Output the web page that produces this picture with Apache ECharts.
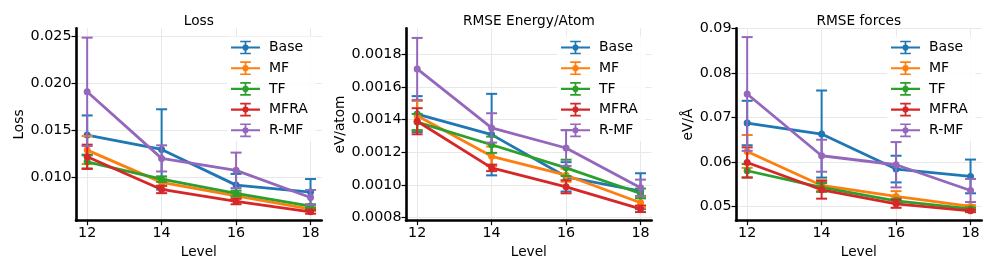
<!DOCTYPE html>
<html>
<head>
<meta charset="utf-8">
<script src="https://cdn.jsdelivr.net/npm/echarts@6/dist/echarts.min.js"></script>
<style>
html,body{margin:0;padding:0;background:#fff;}
#c{width:996px;height:272px;}
</style>
</head>
<body>
<div id="c"></div>
<script>
// ---- data ----
const levels = [12, 14, 16, 18];
const seriesNames = ['Base', 'MF', 'TF', 'MFRA', 'R-MF'];
const panelTitles = ['Loss', 'RMSE Energy/Atom', 'RMSE forces'];
const yNames = ['Loss', 'eV/atom', 'eV/Å'];

// Loss
const lossBase = [0.01447, 0.01293, 0.00911, 0.00836];
const lossBaseErr = [0.0021, 0.0043, 0.0012, 0.0014];
const lossMF = [0.01286, 0.0094, 0.00797, 0.00654];
const lossMFErr = [0.0015, 0.0004, 0.0003, 0.0002];
const lossTF = [0.0116, 0.00975, 0.00822, 0.00686];
const lossTFErr = [0.0007, 0.0003, 0.0003, 0.0002];
const lossMFRA = [0.01214, 0.00865, 0.00736, 0.00625];
const lossMFRAErr = [0.0013, 0.0004, 0.0003, 0.0002];
const lossRMF = [0.0191, 0.01197, 0.01069, 0.00779];
const lossRMFErr = [0.0058, 0.0014, 0.0019, 0.0008];

// RMSE Energy/Atom
const enBase = [0.001434, 0.001308, 0.001049, 0.000961];
const enBaseErr = [0.00011, 0.00025, 0.00009, 0.00011];
const enMF = [0.001424, 0.001175, 0.001059, 0.00089];
const enMFErr = [0.00009, 0.00006, 0.00004, 0.00003];
const enTF = [0.001385, 0.001246, 0.001104, 0.000947];
const enTFErr = [0.00005, 0.00005, 0.00005, 0.00003];
const enMFRA = [0.00139, 0.001104, 0.000988, 0.000853];
const enMFRAErr = [0.00008, 0.00002, 0.00004, 0.00002];
const enRMF = [0.001711, 0.001349, 0.001226, 0.000982];
const enRMFErr = [0.00019, 0.00009, 0.00011, 0.00005];

// RMSE forces
const frBase = [0.06878, 0.0663, 0.05842, 0.05676];
const frBaseErr = [0.005, 0.0098, 0.003, 0.0038];
const frMF = [0.06239, 0.05473, 0.05225, 0.0500];
const frMFErr = [0.0037, 0.0012, 0.0012, 0.0003];
const frTF = [0.05804, 0.05428, 0.05128, 0.04948];
const frTFErr = [0.0015, 0.001, 0.0005, 0.0003];
const frMFRA = [0.0599, 0.05376, 0.0506, 0.04903];
const frMFRAErr = [0.0034, 0.002, 0.0009, 0.0003];
const frRMF = [0.07532, 0.06142, 0.05939, 0.0536];
const frRMFErr = [0.0128, 0.0036, 0.0051, 0.0026];

// tick labels
const xTicks = [12, 14, 16, 18];
const yTicksLoss = [0.010, 0.015, 0.020, 0.025];
const yTicksEnergy = [0.0008, 0.0010, 0.0012, 0.0014, 0.0016, 0.0018];
const yTicksForces = [0.05, 0.06, 0.07, 0.08, 0.09];
const yDecimals = [3, 4, 2];
const yRanges = [[0.0053, 0.0259], [0.00078, 0.00196], [0.0468, 0.0901]];
const xRange = [11.7, 18.3];

// ---- build ----
const colors = ['#1f77b4', '#ff7f0e', '#2ca02c', '#d62728', '#9467bd'];
const panelVals = [
  [lossBase, lossMF, lossTF, lossMFRA, lossRMF],
  [enBase, enMF, enTF, enMFRA, enRMF],
  [frBase, frMF, frTF, frMFRA, frRMF]
];
const panelErrs = [
  [lossBaseErr, lossMFErr, lossTFErr, lossMFRAErr, lossRMFErr],
  [enBaseErr, enMFErr, enTFErr, enMFRAErr, enRMFErr],
  [frBaseErr, frMFErr, frTFErr, frMFRAErr, frRMFErr]
];
const yTicksAll = [yTicksLoss, yTicksEnergy, yTicksForces];

const FONT = 'DejaVu Sans';
const gridLefts = [76, 406, 736];
const gridW = 245.7;
const gridTop = 28.3;
const gridH = 192.4;
const yNameGaps = [44.5, 52, 39];

// legend icon: line + vertical errorbar with caps + circle
const legendIcon = 'path://M0 6 L30 6 L30 8.2 L0 8.2 Z M14.1 0 L15.9 0 L15.9 14.2 L14.1 14.2 Z M9.5 0 L20.5 0 L20.5 1.7 L9.5 1.7 Z M9.5 12.5 L20.5 12.5 L20.5 14.2 L9.5 14.2 Z M18.2 7.1 A3.2 3.2 0 1 1 11.8 7.1 A3.2 3.2 0 1 1 18.2 7.1 Z';

const grid = [], xAxis = [], yAxis = [], series = [], title = [], legend = [];

for (let p = 0; p < 3; p++) {
  grid.push({left: gridLefts[p], top: gridTop, width: gridW, height: gridH, containLabel: false});
  title.push({
    text: panelTitles[p],
    left: gridLefts[p] + gridW / 2,
    top: 14,
    textAlign: 'center',
    padding: 0,
    textStyle: {fontFamily: FONT, fontSize: 13.7, fontWeight: 'normal', color: '#000'}
  });
  xAxis.push({
    type: 'value', gridIndex: p, min: xRange[0], max: xRange[1],
    name: 'Level', nameLocation: 'middle', nameGap: 20.5,
    nameTextStyle: {fontFamily: FONT, fontSize: 13.7, color: '#000', verticalAlign: 'top'},
    axisLine: {show: true, onZero: false, lineStyle: {color: '#000', width: 2.6}},
    axisTick: {show: true, inside: false, length: 4.5, lineStyle: {color: '#000', width: 1.2}, customValues: xTicks},
    axisLabel: {show: true, margin: 6, fontFamily: FONT, fontSize: 14.3, color: '#000', customValues: xTicks,
      formatter: v => String(Math.round(v))},
    splitLine: {show: true, lineStyle: {color: '#e8e8e8', width: 1}}
  });
  const dec = yDecimals[p];
  yAxis.push({
    type: 'value', gridIndex: p, min: yRanges[p][0], max: yRanges[p][1],
    name: yNames[p], nameLocation: 'middle', nameGap: yNameGaps[p], nameRotate: 90,
    nameTextStyle: {fontFamily: FONT, fontSize: 13.7, color: '#000'},
    axisLine: {show: true, onZero: false, lineStyle: {color: '#000', width: 2.6}},
    axisTick: {show: true, inside: false, length: 4.5, lineStyle: {color: '#000', width: 1.2}, customValues: yTicksAll[p]},
    axisLabel: {show: true, margin: 4.5, fontFamily: FONT, fontSize: 14.3, color: '#000', customValues: yTicksAll[p],
      formatter: v => v.toFixed(dec)},
    splitLine: {show: true, lineStyle: {color: '#e8e8e8', width: 1}}
  });
  legend.push({
    orient: 'vertical',
    left: gridLefts[p] + 151,
    top: 36.5,
    itemWidth: 29, itemHeight: 14, itemGap: 6.7,
    padding: [4, 8, 4, 4],
    backgroundColor: 'rgba(255,255,255,0.85)',
    icon: legendIcon,
    itemStyle: {borderWidth: 0},
    textStyle: {fontFamily: FONT, fontSize: 14, color: '#000', padding: [0, 0, 0, 4]},
    data: seriesNames.map(n => ({name: n, icon: legendIcon})),
    selectedMode: false
  });
  for (let s = 0; s < 5; s++) {
    const vals = panelVals[p][s];
    const errs = panelErrs[p][s];
    const col = colors[s];
    series.push({
      type: 'line', name: seriesNames[s], xAxisIndex: p, yAxisIndex: p,
      data: levels.map((x, i) => [x, vals[i]]),
      symbol: 'circle', symbolSize: 7, showSymbol: true,
      lineStyle: {color: col, width: 2.8},
      itemStyle: {color: col, borderWidth: 0},
      z: 3 + s * 2, animation: false, silent: true
    });
    series.push({
      type: 'custom', name: seriesNames[s], xAxisIndex: p, yAxisIndex: p,
      data: levels.map((x, i) => [x, vals[i] - errs[i], vals[i] + errs[i]]),
      encode: {x: 0, y: [1, 2]},
      itemStyle: {color: col},
      z: 2 + s * 2, animation: false, silent: true,
      renderItem: function (params, api) {
        const x = api.value(0), lo = api.value(1), hi = api.value(2);
        const a = api.coord([x, hi]), b = api.coord([x, lo]);
        const cw = 5.5;
        const st = {stroke: col, lineWidth: 2, fill: null};
        return {type: 'group', children: [
          {type: 'line', shape: {x1: a[0], y1: a[1], x2: b[0], y2: b[1]}, style: st},
          {type: 'line', shape: {x1: a[0] - cw, y1: a[1], x2: a[0] + cw, y2: a[1]}, style: st},
          {type: 'line', shape: {x1: b[0] - cw, y1: b[1], x2: b[0] + cw, y2: b[1]}, style: st}
        ]};
      }
    });
  }
}

const chart = echarts.init(document.getElementById('c'), null, {renderer: 'canvas'});
chart.setOption({
  animation: false,
  backgroundColor: '#fff',
  title, legend, grid, xAxis, yAxis, series
});
</script>
</body>
</html>
